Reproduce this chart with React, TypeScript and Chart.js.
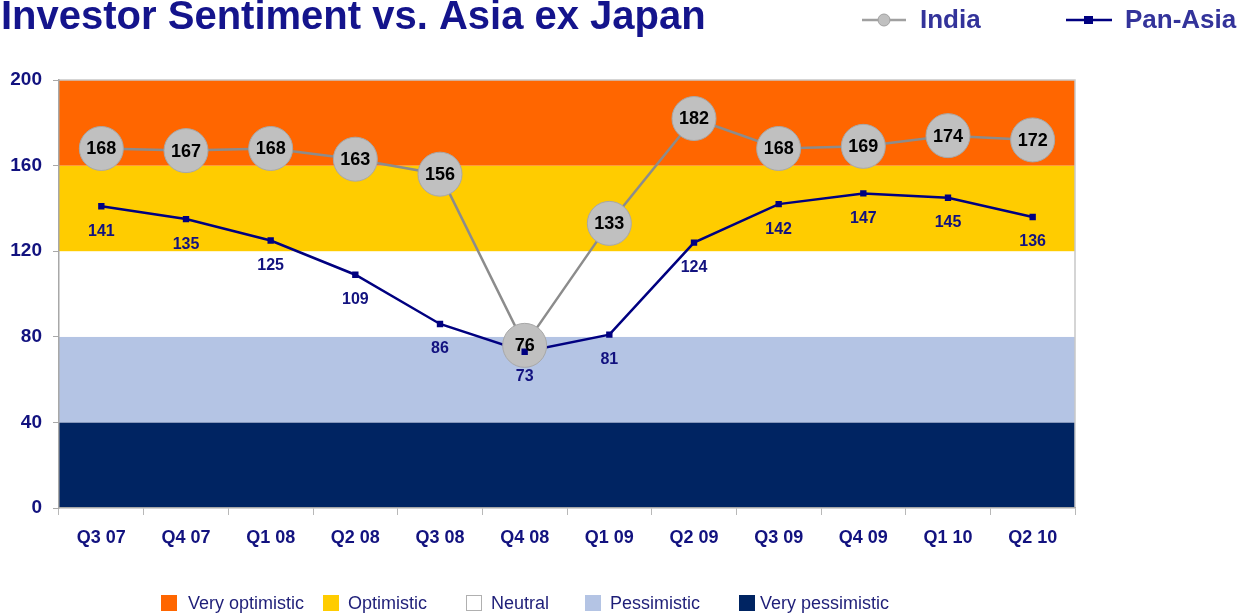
import React, { useEffect, useRef } from "react";
import { Chart, registerables } from "chart.js";

Chart.register(...registerables);

const categories = ["Q3 07", "Q4 07", "Q1 08", "Q2 08", "Q3 08", "Q4 08", "Q1 09", "Q2 09", "Q3 09", "Q4 09", "Q1 10", "Q2 10"];
const india = [168, 167, 168, 163, 156, 76, 133, 182, 168, 169, 174, 172];
const panAsia = [141, 135, 125, 109, 86, 73, 81, 124, 142, 147, 145, 136];
const yTicks = [0, 40, 80, 120, 160, 200];
const bandEdges = [0, 40, 80, 120, 160, 200];
const bandLabels = ["Very pessimistic", "Pessimistic", "Neutral", "Optimistic", "Very optimistic"];
const bandColors = ["#002462", "#B4C4E4", "#FFFFFF", "#FFCC00", "#FF6600"];
const titleText = "Investor Sentiment vs. Asia ex Japan";
const seriesNames = ["India", "Pan-Asia"];

const FONT = '"Liberation Sans", Arial, sans-serif';
const NAVY = "#12127F";

const decorPlugin = {
  id: "decor",
  beforeDraw(chart: any) {
    const { ctx, chartArea: a } = chart;
    const y = chart.scales.y;
    ctx.save();
    for (let i = 0; i < bandColors.length; i++) {
      const top = y.getPixelForValue(bandEdges[i + 1]);
      const bot = y.getPixelForValue(bandEdges[i]);
      ctx.fillStyle = bandColors[i];
      ctx.fillRect(a.left, top, a.right - a.left, bot - top);
    }
    ctx.strokeStyle = "#C8C8C8";
    ctx.lineWidth = 1.5;
    ctx.beginPath();
    ctx.moveTo(a.left, a.top);
    ctx.lineTo(a.right, a.top);
    ctx.lineTo(a.right, a.bottom);
    ctx.stroke();
    ctx.restore();
  },
  afterDatasetsDraw(chart: any) {
    const { ctx } = chart;
    ctx.save();
    ctx.textAlign = "center";
    ctx.textBaseline = "middle";
    const mi = chart.getDatasetMeta(1);
    ctx.fillStyle = "#000000";
    ctx.font = `bold 18px ${FONT}`;
    mi.data.forEach((pt: any, i: number) => {
      ctx.fillText(String(india[i]), pt.x, pt.y + 1);
    });
    const mp = chart.getDatasetMeta(0);
    ctx.fillStyle = NAVY;
    ctx.font = `bold 16px ${FONT}`;
    mp.data.forEach((pt: any, i: number) => {
      ctx.fillText(String(panAsia[i]), pt.x, pt.y + 25);
    });
    ctx.restore();
  },
  afterDraw(chart: any) {
    const { ctx } = chart;
    ctx.save();
    // Title
    ctx.fillStyle = "#14148C";
    ctx.font = `bold 40px ${FONT}`;
    ctx.textAlign = "left";
    ctx.textBaseline = "alphabetic";
    ctx.fillText(titleText, 1, 29);

    // Top legend
    const ly = 20;
    ctx.lineWidth = 2.5;
    ctx.strokeStyle = "#A0A0A0";
    ctx.beginPath();
    ctx.moveTo(862, ly);
    ctx.lineTo(906, ly);
    ctx.stroke();
    ctx.beginPath();
    ctx.arc(884, ly, 6, 0, Math.PI * 2);
    ctx.fillStyle = "#C0C0C0";
    ctx.fill();
    ctx.lineWidth = 1;
    ctx.strokeStyle = "#A0A0A0";
    ctx.stroke();
    ctx.strokeStyle = "#000080";
    ctx.lineWidth = 2.5;
    ctx.beginPath();
    ctx.moveTo(1066, ly);
    ctx.lineTo(1112, ly);
    ctx.stroke();
    ctx.fillStyle = "#000080";
    ctx.fillRect(1084, ly - 4, 9, 8);
    ctx.fillStyle = "#33339A";
    ctx.font = `bold 26px ${FONT}`;
    ctx.textBaseline = "middle";
    ctx.fillText(seriesNames[0], 920, ly + 1);
    ctx.fillText(seriesNames[1], 1125, ly + 1);

    // Bottom legend
    const items = [4, 3, 2, 1, 0];
    const boxX = [161, 323, 466, 585, 739];
    const textX = [188, 348, 491, 610, 760];
    const by = 603;
    ctx.font = `18px ${FONT}`;
    items.forEach((bi, k) => {
      const x = boxX[k];
      ctx.fillStyle = bandColors[bi];
      ctx.fillRect(x, by - 8, 16, 16);
      if (bandColors[bi] === "#FFFFFF") {
        ctx.strokeStyle = "#B0B0B0";
        ctx.lineWidth = 1;
        ctx.strokeRect(x + 0.5, by - 7.5, 15, 15);
      }
      ctx.fillStyle = "#1E1E78";
      ctx.fillText(bandLabels[bi], textX[k], by + 1);
    });
    ctx.restore();
  },
};

export default function App() {
  const ref = useRef<HTMLCanvasElement | null>(null);
  useEffect(() => {
    if (!ref.current) return;
    const chart = new Chart(ref.current, {
      type: "line",
      data: {
        labels: categories,
        datasets: [
          {
            label: seriesNames[1],
            data: panAsia,
            borderColor: "#000080",
            backgroundColor: "#000080",
            borderWidth: 2.5,
            pointStyle: "rect",
            pointRadius: 0,
            tension: 0,
            order: 3,
          },
          {
            label: seriesNames[0],
            data: india,
            borderColor: "#8C8C8C",
            borderWidth: 2.5,
            pointRadius: 22,
            pointBackgroundColor: "#C0C0C0",
            pointBorderColor: "#A8A8A8",
            pointBorderWidth: 1,
            tension: 0,
            order: 2,
          },
          {
            label: seriesNames[1] + " markers",
            data: panAsia,
            showLine: false,
            pointStyle: "rect",
            pointRadius: 4.5,
            pointBackgroundColor: "#000080",
            pointBorderColor: "#000080",
            pointBorderWidth: 0,
            order: 1,
          },
        ],
      },
      options: {
        responsive: false,
        animation: false,
        events: [],
        layout: { padding: { top: 80, right: 179, left: 0, bottom: 0 } },
        plugins: { legend: { display: false }, tooltip: { enabled: false }, title: { display: false } },
        scales: {
          x: {
            offset: true,
            grid: { drawOnChartArea: false, drawTicks: true, tickLength: 7, color: "#B8B8B8", offset: true },
            border: { color: "#A8A8A8", width: 1.5 },
            ticks: { color: NAVY, font: { family: FONT, size: 18, weight: "bold" }, padding: 12, maxRotation: 0, autoSkip: false },
            afterFit: (s: any) => { s.height = 108; },
          },
          y: {
            min: 0,
            max: 200,
            afterBuildTicks: (s: any) => { s.ticks = yTicks.map((v) => ({ value: v })); },
            grid: { drawOnChartArea: false, drawTicks: true, tickLength: 6, color: "#A8A8A8" },
            border: { color: "#A8A8A8", width: 1.5 },
            ticks: { color: NAVY, font: { family: FONT, size: 19, weight: "bold" }, padding: 11 },
            afterFit: (s: any) => { s.width = 59; },
          },
        },
      },
      plugins: [decorPlugin],
    });
    return () => chart.destroy();
  }, []);
  return (
    <div style={{ position: "fixed", left: 0, top: 0, width: 1254, height: 616, background: "#fff" }}>
      <canvas ref={ref} width={1254} height={616} />
    </div>
  );
}
